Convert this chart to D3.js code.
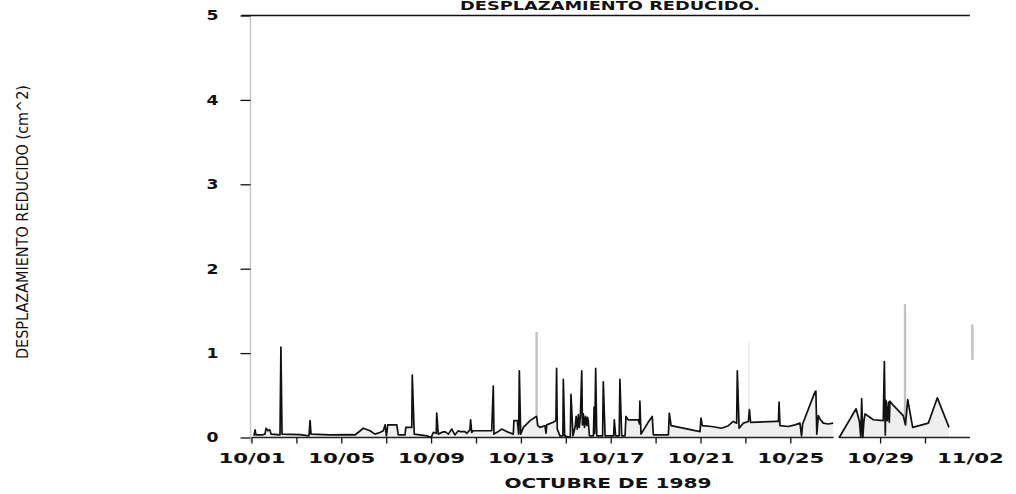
<!DOCTYPE html>
<html>
<head>
<meta charset="utf-8">
<script src="https://cdn.jsdelivr.net/npm/d3@7"></script>
<style>
  html, body { margin: 0; padding: 0; background: #fff; }
  svg { display: block; }
</style>
</head>
<body>
<svg id="chart" width="1016" height="494"></svg>
<script>
// Reduced displacement, October 1989 (days counted from 10/01 00:00)
const startDate = new Date(1989, 9, 1);

// First recording block: 10/01 .. 10/26
const seg1Days = [
  0.11, 0.16, 0.20, 0.47, 0.60, 0.65, 0.73, 0.78, 0.82, 0.87, 1.27, 1.31, 1.36,
  2.16, 2.56, 2.61, 2.65, 3.50, 4.39, 4.61, 4.98, 5.28, 5.50, 5.72, 5.87, 5.95,
  6.01, 6.07, 6.12, 6.47, 6.54, 6.84, 6.87, 7.14, 7.16, 7.25, 7.82, 8.00, 8.10,
  8.23, 8.25, 8.32, 8.47, 8.62, 8.77, 8.92, 9.06, 9.21, 9.29, 9.51, 9.59, 9.73,
  9.76, 9.81, 9.88, 10.33, 10.70, 10.77, 10.80, 10.99, 11.14, 11.37, 11.66, 11.69,
  11.84, 11.90, 11.93, 11.99, 12.11, 12.41, 12.63, 12.70, 12.75, 12.85, 13.07,
  13.12, 13.15, 13.44, 13.56, 13.59, 13.62, 13.74, 13.87, 13.89, 13.95, 14.20,
  14.23, 14.32, 14.42, 14.46, 14.51, 14.56, 14.60, 14.65, 14.71, 14.74, 14.78,
  14.83, 14.88, 14.93, 14.97, 15.00, 15.05, 15.23, 15.26, 15.29, 15.33, 15.38,
  15.64, 15.67, 15.75, 16.13, 16.16, 16.22, 16.38, 16.41, 16.49, 16.64, 16.68,
  16.78, 17.23, 17.28, 17.30, 17.35, 17.67, 17.85, 17.90, 18.57, 18.61, 18.69,
  19.98, 20.02, 20.08, 20.50, 20.94, 21.24, 21.46, 21.61, 21.64, 21.72, 21.91,
  22.13, 22.18, 22.23, 23.39, 23.47, 23.50, 23.54, 23.91, 24.21, 24.43, 24.50,
  24.55, 25.10, 25.14, 25.18, 25.25, 25.32, 25.47, 25.69, 25.91
];
const seg1Values = [
  0.02, 0.09, 0.03, 0.03, 0.04, 0.11, 0.08, 0.09, 0.09, 0.04, 0.03, 1.07, 0.04,
  0.035, 0.02, 0.20, 0.04, 0.03, 0.035, 0.03, 0.11, 0.08, 0.04, 0.06, 0.08, 0.15,
  0.02, 0.15, 0.15, 0.15, 0.03, 0.03, 0.12, 0.12, 0.74, 0.04, 0.02, 0.00, 0.06,
  0.05, 0.29, 0.04, 0.06, 0.07, 0.04, 0.10, 0.03, 0.08, 0.07, 0.07, 0.05, 0.09,
  0.21, 0.06, 0.08, 0.08, 0.08, 0.61, 0.04, 0.07, 0.10, 0.07, 0.04, 0.20,
  0.20, 0.04, 0.79, 0.04, 0.12, 0.20, 0.24, 0.25, 0.14, 0.12, 0.14,
  0.05, 0.15, 0.18, 0.20, 0.82, 0.10, 0.02, 0.02, 0.69, 0.02, 0.00,
  0.51, 0.02, 0.13, 0.25, 0.10, 0.27, 0.12, 0.26, 0.79, 0.15, 0.28,
  0.12, 0.25, 0.14, 0.24, 0.20, 0.02, 0.02, 0.36, 0.05, 0.82, 0.02,
  0.02, 0.66, 0.02, 0.02, 0.21, 0.02, 0.02, 0.69, 0.02, 0.02, 0.25,
  0.21, 0.21, 0.16, 0.43, 0.04, 0.18, 0.25, 0.03, 0.03, 0.29, 0.14,
  0.07, 0.23, 0.14, 0.13, 0.11, 0.14, 0.19, 0.17, 0.79, 0.11, 0.17,
  0.19, 0.33, 0.18, 0.19, 0.19, 0.42, 0.14, 0.13, 0.15, 0.17, 0.02,
  0.16, 0.54, 0.55, 0.04, 0.26, 0.22, 0.17, 0.16, 0.17
];

// Second recording block: 10/27 .. 10/31
const seg2Days = [
  26.18, 26.93, 27.08, 27.14, 27.18, 27.23, 27.28, 27.33, 27.70, 28.14, 28.19,
  28.23, 28.26, 28.32, 28.37, 28.41, 28.44, 28.59, 29.03, 29.13, 29.23, 29.45,
  30.15, 30.55, 31.07
];
const seg2Values = [
  0.00, 0.34, 0.19, 0.00, 0.46, 0.00, 0.20, 0.28, 0.21, 0.20, 0.90,
  0.03, 0.44, 0.20, 0.42, 0.18, 0.43, 0.38, 0.26, 0.15, 0.45, 0.12,
  0.17, 0.47, 0.12
];

// Saturated events (drawn in grey)
const satDays = [12.70, 29.11, 32.11];
const satLow  = [0.25, 0.15, 0.92];
const satHigh = [1.25, 1.58, 1.34];
// Weak trace of a further saturated event
const weakDays = [22.16];
const weakLow  = [0.19];
const weakHigh = [1.14];

// Spans of the recorded time axis
const spanStart = [0, 26.15];
const spanEnd   = [25.93, 32];

const yTicks = [0, 1, 2, 3, 4, 5];
const xTickDays = [0, 2, 4, 6, 8, 10, 12, 14, 16, 18, 20, 22, 24, 28, 30];
const xLabelDays = [0, 4, 8, 12, 16, 20, 24, 28, 32];

const title = "DESPLAZAMIENTO REDUCIDO.";
const yTitle = "DESPLAZAMIENTO REDUCIDO (cm^2)";
const xTitle = "OCTUBRE DE 1989";

const svg = d3.select("#chart");
const x = d3.scaleLinear().domain([0, 32]).range([251.5, 969.9]);
const y = d3.scaleLinear().domain([0, 5]).range([437.5, 15.5]);
const fmt = d3.timeFormat("%m/%d");
const dayLabel = d => fmt(d3.timeDay.offset(startDate, d));

const seg1 = seg1Days.map((d, i) => ({ d, v: seg1Values[i] }));
const seg2 = seg2Days.map((d, i) => ({ d, v: seg2Values[i] }));

// shaded area under the trace
const area = d3.area().x(p => x(p.d)).y0(y(0)).y1(p => y(p.v));
const line = d3.line().x(p => x(p.d)).y(p => y(p.v));

svg.selectAll("path.area").data([seg1, seg2]).join("path")
  .attr("class", "area").attr("d", area)
  .attr("fill", "#efefef").attr("stroke", "none");

// vertical left axis line
svg.append("line")
  .attr("x1", x(0) - 1).attr("x2", x(0) - 1)
  .attr("y1", y(5)).attr("y2", y(0) + 4)
  .attr("stroke", "#c9c9c9").attr("stroke-width", 1.5);

// top frame line at the upper limit
svg.append("line")
  .attr("x1", x(0) - 10).attr("x2", x(32))
  .attr("y1", y(5)).attr("y2", y(5))
  .attr("stroke", "#111").attr("stroke-width", 1.6);

// broken time baseline
svg.selectAll("line.base").data(spanStart).join("line")
  .attr("class", "base")
  .attr("x1", (d) => x(d)).attr("x2", (d, i) => x(spanEnd[i]))
  .attr("y1", y(0)).attr("y2", y(0))
  .attr("stroke", "#222").attr("stroke-width", 1.5);

// saturated events
svg.selectAll("line.sat").data(satDays).join("line")
  .attr("class", "sat")
  .attr("x1", d => x(d)).attr("x2", d => x(d))
  .attr("y1", (d, i) => y(satLow[i])).attr("y2", (d, i) => y(satHigh[i]))
  .attr("stroke", "#c2c2c2").attr("stroke-width", 2.4);
svg.selectAll("line.weak").data(weakDays).join("line")
  .attr("class", "weak")
  .attr("x1", d => x(d)).attr("x2", d => x(d))
  .attr("y1", (d, i) => y(weakLow[i])).attr("y2", (d, i) => y(weakHigh[i]))
  .attr("stroke", "#e4e4e4").attr("stroke-width", 1.2);

// trace
svg.selectAll("path.trace").data([seg1, seg2]).join("path")
  .attr("class", "trace").attr("d", line)
  .attr("fill", "none").attr("stroke", "#111")
  .attr("stroke-width", 1.7).attr("stroke-linejoin", "round");

// y axis ticks and labels
const yAxis = d3.axisLeft(y).tickValues(yTicks).tickSize(10).tickPadding(22)
  .tickFormat(d3.format("d"));
const gy = svg.append("g").attr("transform", `translate(${x(0) - 1},0)`).call(yAxis);
gy.select(".domain").remove();
gy.selectAll(".tick line").attr("stroke", "#111").attr("stroke-width", 1.3);
gy.selectAll(".tick text")
  .attr("font-family", "DejaVu Sans").attr("font-weight", "bold")
  .attr("font-size", 14).attr("fill", "#111")
  .attr("textLength", 12).attr("lengthAdjust", "spacingAndGlyphs");

// x axis ticks (every two days)
const gxt = svg.append("g").attr("transform", `translate(0,${y(0)})`)
  .call(d3.axisBottom(x).tickValues(xTickDays).tickSize(6).tickFormat(""));
gxt.select(".domain").remove();
gxt.selectAll(".tick line").attr("stroke", "#111").attr("stroke-width", 1.3);

// x axis labels (every four days)
const gxl = svg.append("g").attr("transform", `translate(0,${y(0)})`)
  .call(d3.axisBottom(x).tickValues(xLabelDays).tickSize(0).tickPadding(0)
    .tickFormat(dayLabel));
gxl.select(".domain").remove();
gxl.selectAll(".tick line").remove();
gxl.selectAll(".tick text")
  .attr("dy", null).attr("y", 25)
  .attr("font-family", "DejaVu Sans").attr("font-weight", "bold")
  .attr("font-size", 14.5).attr("fill", "#111")
  .attr("textLength", 67).attr("lengthAdjust", "spacingAndGlyphs");

// titles
svg.append("text").text(title)
  .attr("x", 610).attr("y", 10).attr("text-anchor", "middle")
  .attr("font-family", "DejaVu Sans").attr("font-weight", "bold")
  .attr("font-size", 12).attr("fill", "#111")
  .attr("textLength", 300).attr("lengthAdjust", "spacingAndGlyphs");

svg.append("text").text(xTitle)
  .attr("x", 608).attr("y", 488).attr("text-anchor", "middle")
  .attr("font-family", "DejaVu Sans").attr("font-weight", "bold")
  .attr("font-size", 13.5).attr("fill", "#111")
  .attr("textLength", 207).attr("lengthAdjust", "spacingAndGlyphs");

svg.append("text").text(yTitle)
  .attr("transform", "translate(28,222) rotate(-90)")
  .attr("text-anchor", "middle")
  .attr("font-family", "DejaVu Sans Condensed, DejaVu Sans")
  .attr("font-size", 15).attr("fill", "#111")
  .attr("textLength", 274).attr("lengthAdjust", "spacingAndGlyphs");
</script>
</body>
</html>
